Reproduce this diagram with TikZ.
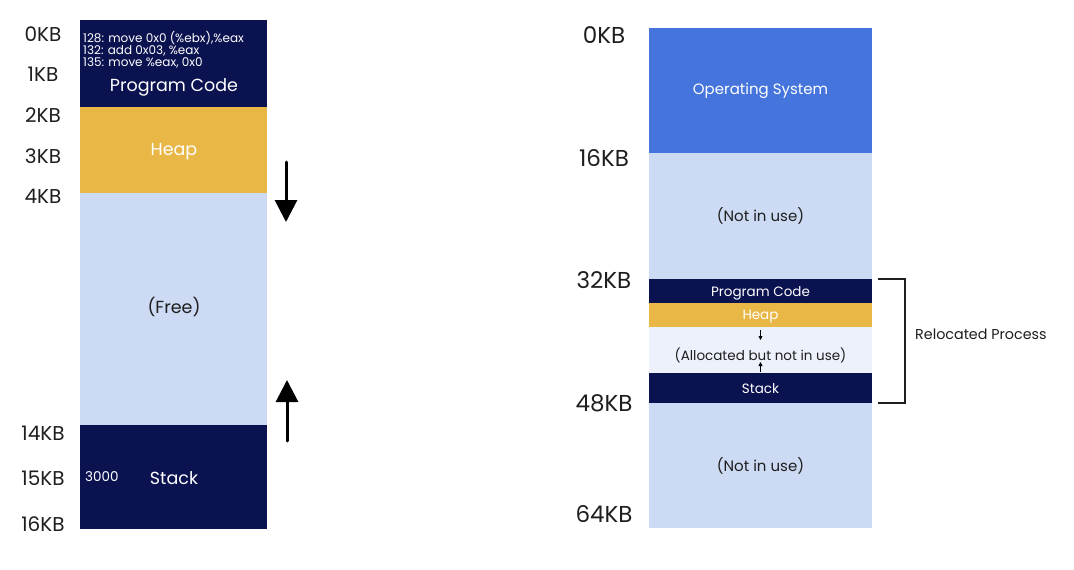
\documentclass[tikz,border=0pt]{standalone}
\usepackage{fontspec}
\setmainfont{Poppins}
\usepackage{tikz}
\usetikzlibrary{arrows.meta,backgrounds}

\definecolor{navy}{HTML}{0B1250}
\definecolor{heapyellow}{HTML}{E8B746}
\definecolor{freeblue}{HTML}{CCDAF3}
\definecolor{osblue}{HTML}{4474DC}
\definecolor{paleblue}{HTML}{EDF1FB}
\definecolor{inkgrey}{HTML}{1E1E1E}

\tikzset{
  kb/.style={text=inkgrey,font=\fontsize{20}{22}\selectfont,inner sep=0pt},
  rkb/.style={text=inkgrey,font=\fontsize{23}{25}\selectfont,inner sep=0pt},
  lbl/.style={text=white,font=\fontsize{17.5}{20}\selectfont,inner sep=0pt},
  dlbl/.style={text=inkgrey,font=\fontsize{17.5}{20}\selectfont,inner sep=0pt},
  slbl/.style={text=white,font=\fontsize{13.5}{15}\selectfont,inner sep=0pt},
  mlbl/.style={text=white,font=\fontsize{15}{17}\selectfont,inner sep=0pt},
  sdlbl/.style={text=inkgrey,font=\fontsize{13.5}{15}\selectfont,inner sep=0pt},
  mdlbl/.style={text=inkgrey,font=\fontsize{15}{17}\selectfont,inner sep=0pt},
  codeline/.style={text=white,font=\fontsize{12}{13}\selectfont,inner sep=0pt,anchor=west},
  growarrow/.style={line width=3pt,line cap=round,-{Triangle[width=22pt,length=22pt]}},
  tinyarrow/.style={line width=0.8pt,-{Triangle[width=4pt,length=4pt]}}
}

\begin{document}
\begin{tikzpicture}[x=1pt,y=1pt,yscale=-1]
\useasboundingbox (0,0) rectangle (1074,570);
\fill[white] (0,0) rectangle (1074,570);

%Left: process address space
\fill[navy] (80,20) rectangle (267,107);
\fill[heapyellow] (80,107) rectangle (267,193);
\fill[freeblue] (80,193) rectangle (267,425);
\fill[navy] (80,425) rectangle (267,529);

% Text Node
\node[codeline] (line1) at (83,38) {128: move 0x0 (\%ebx),\%eax};
\node[codeline] (line2) at (83,51) {132: add 0x03, \%eax};
\node[codeline] (line3) at (83,63) {135: move \%eax, 0x0};
\node[lbl] (code) at (174,87) {Program Code};
\node[lbl] (heap) at (174,152) {Heap};
\node[dlbl] (free) at (174,307) {(Free)};
\node[lbl] (stack) at (174,478) {Stack};
\node[slbl,anchor=west] (addr) at (85,477) {3000};

% Text Node
\node[kb] (l0) at (43,34) {0KB};
\node[kb] (l1) at (43,74) {1KB};
\node[kb] (l2) at (43,115) {2KB};
\node[kb] (l3) at (43,156) {3KB};
\node[kb] (l4) at (43,196) {4KB};
\node[kb] (l14) at (43,433) {14KB};
\node[kb] (l15) at (43,478) {15KB};
\node[kb] (l16) at (43,524) {16KB};

%Growth arrows
\coordinate (dtop) at (286,162);
\coordinate (dbot) at (286,222);
\coordinate (ubot) at (287,441);
\coordinate (utop) at (287,380);
\draw[growarrow] (dtop) -- (dbot);
\draw[growarrow] (ubot) -- (utop);

%Right: physical memory
\fill[osblue] (649,28) rectangle (872,153);
\fill[freeblue] (649,153) rectangle (872,279);
\fill[navy] (649,279) rectangle (872,303);
\fill[heapyellow] (649,303) rectangle (872,327);
\fill[paleblue] (649,327) rectangle (872,373);
\fill[navy] (649,373) rectangle (872,403);
\fill[freeblue] (649,403) rectangle (872,528);

% Text Node
\node[mlbl] (os) at (760.5,91) {Operating System};
\node[mdlbl] (unused1) at (760.5,216) {(Not in use)};
\node[slbl] (rcode) at (760.5,293) {Program Code};
\node[slbl] (rheap) at (760.5,316.5) {Heap};
\node[sdlbl] (alloc) at (760.5,355) {(Allocated but not in use)};
\node[slbl] (rstack) at (760.5,389) {Stack};
\node[mdlbl] (unused2) at (760.5,466) {(Not in use)};

% Text Node
\node[rkb] (r0) at (604,35) {0KB};
\node[rkb] (r16) at (604,158) {16KB};
\node[rkb] (r32) at (604,280) {32KB};
\node[rkb] (r48) at (604,403) {48KB};
\node[rkb] (r64) at (604,514) {64KB};

%Small growth arrows
\coordinate (hd) at (760.5,330);
\coordinate (he) at (760.5,340);
\coordinate (su) at (760.5,372);
\coordinate (se) at (760.5,362);
\draw[tinyarrow] (hd) -- (he);
\draw[tinyarrow] (su) -- (se);

%Bracket
\coordinate (bt) at (878,279);
\coordinate (bb) at (878,403);
\draw[inkgrey,line width=1.2pt] (bt) -- ++(27,0) -- ++(0,124) -- (bb);
\node[sdlbl,anchor=west,font=\fontsize{14.3}{16}\selectfont] (reloc) at (915,334) {Relocated Process};

\end{tikzpicture}
\end{document}
